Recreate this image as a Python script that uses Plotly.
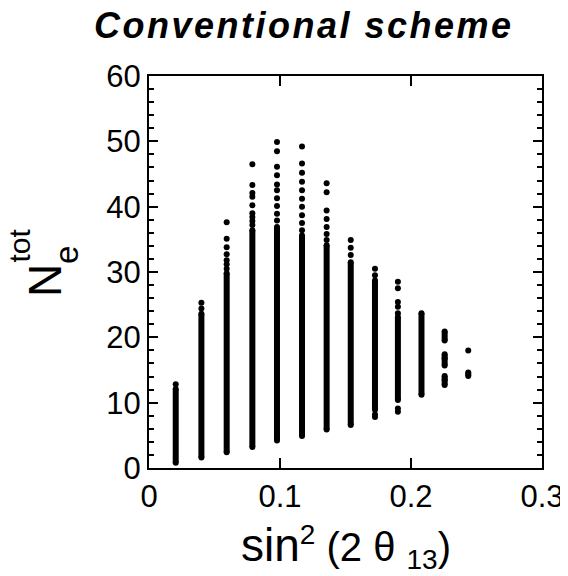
import plotly.graph_objects as go

# Column positions (sin^2(2 theta13))
x_cols = [0.0204, 0.0400, 0.0593, 0.0789, 0.0977, 0.1168, 0.1356, 0.1540, 0.1725, 0.1900, 0.2080, 0.2257, 0.2437]

# Dense (continuous) parts of each column: x, lower and upper N_e^tot
band_x    = [0.0204, 0.0400, 0.0593, 0.0789, 0.0977, 0.1168, 0.1356, 0.1540, 0.1725, 0.1900, 0.2080, 0.2257, 0.2257, 0.2257, 0.2437]
band_low  = [0.8,    1.6,    2.4,    3.2,    4.2,    4.9,    5.9,    6.6,    8.9,    10.4,   11.2,   12.7,   15.7,   19.5,   14.1]
band_high = [12.1,   23.6,   29.8,   36.4,   36.9,   35.6,   34.1,   31.5,   28.7,   23.1,   23.7,   14.1,   17.4,   20.9,   14.6]

# Isolated points above / below the dense parts
dot_x = [0.0204,
         0.0400, 0.0400,
         0.0593, 0.0593, 0.0593, 0.0593, 0.0593, 0.0593, 0.0593,
         0.0789, 0.0789, 0.0789, 0.0789, 0.0789, 0.0789, 0.0789, 0.0789, 0.0789,
         0.0977, 0.0977, 0.0977, 0.0977, 0.0977, 0.0977, 0.0977, 0.0977, 0.0977, 0.0977,
         0.1168, 0.1168, 0.1168, 0.1168, 0.1168, 0.1168, 0.1168, 0.1168, 0.1168, 0.1168,
         0.1356, 0.1356, 0.1356, 0.1356, 0.1356, 0.1356, 0.1356,
         0.1540, 0.1540, 0.1540,
         0.1725, 0.1725, 0.1725, 0.1725,
         0.1900, 0.1900, 0.1900, 0.1900, 0.1900, 0.1900, 0.1900,
         0.2257, 0.2257,
         0.2437]
dot_y = [12.8,
         24.4, 25.3,
         30.5, 31.2, 31.8, 32.7, 33.8, 35.1, 37.6,
         37.2, 37.8, 38.4, 39.0, 40.2, 41.5, 42.1, 43.3, 46.5,
         37.9, 38.9, 40.1, 41.3, 42.5, 43.4, 44.8, 46.1, 48.5, 49.9,
         36.4, 37.5, 38.7, 40.0, 41.2, 42.5, 43.8, 45.2, 46.6, 49.2,
         34.9, 35.8, 36.9, 38.1, 39.4, 42.2, 43.6,
         32.6, 33.7, 34.9,
         29.5, 30.5, 8.2, 7.8,
         23.7, 24.7, 25.4, 27.5, 28.5, 9.1, 8.6,
         16.8, 13.5,
         18.0]

x_ticks = [0, 0.1, 0.2, 0.3]
x_tick_text = ["0", "0.1", "0.2", "0.3"]
y_ticks = [0, 10, 20, 30, 40, 50, 60]
y_tick_text = ["0", "10", "20", "30", "40", "50", "60"]

FONT = "Liberation Sans, Arial, Helvetica, sans-serif"

bx, by = [], []
for x, lo, hi in zip(band_x, band_low, band_high):
    bx += [x, x, None]
    by += [lo, hi, None]

fig = go.Figure()
fig.add_trace(go.Scatter(x=bx, y=by, mode="lines+markers",
                         line=dict(color="black", width=6),
                         marker=dict(color="black", size=6),
                         hoverinfo="skip", showlegend=False))
fig.add_trace(go.Scatter(x=dot_x, y=dot_y, mode="markers",
                         marker=dict(color="black", size=6),
                         showlegend=False))

axis_common = dict(showgrid=False, zeroline=False, showline=True, linecolor="black",
                   linewidth=2, mirror="allticks", ticks="inside", tickcolor="black",
                   tickwidth=1.5, automargin=False,
                   tickfont=dict(family=FONT, size=31, color="black"))

fig.update_xaxes(range=[0, 0.3], tickvals=x_ticks, ticktext=x_tick_text, ticklen=10,
                 **axis_common)
fig.update_yaxes(range=[0, 60], tickvals=y_ticks, ticktext=y_tick_text, ticklen=9,
                 minor=dict(dtick=2, ticks="inside", ticklen=5, tickcolor="black", tickwidth=1.5),
                 **axis_common)

# The page body adds an 8 px offset, so the figure is 560x568 placed at (8, 8).
fig.update_layout(
    width=560, height=568,
    margin=dict(l=141, r=26, t=68, b=108, pad=0, autoexpand=False),
    plot_bgcolor="white", paper_bgcolor="white",
    font=dict(family=FONT, color="black"),
    annotations=[
        dict(text="<span style='letter-spacing:2.5px'><b><i>Conventional scheme</i></b></span>",
             xref="paper", yref="paper",
             x=(304 - 149) / 393, y=1.128, xanchor="center", yanchor="middle", showarrow=False,
             font=dict(size=36, family=FONT, color="black")),
        dict(text="<span style='font-size:46px'>sin</span><sup>2</sup> (2 θ <sub>13</sub>)",
             xref="paper", yref="paper", x=0.5, y=-0.202, xanchor="center", yanchor="middle",
             showarrow=False, font=dict(size=40, family=FONT, color="black")),
        dict(text="N", xref="paper", yref="paper", textangle=-90,
             x=(45 - 149) / 393, y=(468 - 281) / 392, xanchor="center", yanchor="middle",
             showarrow=False, font=dict(size=46, family=FONT, color="black")),
        dict(text="e", xref="paper", yref="paper", textangle=-90,
             x=(66.6 - 149) / 393, y=(468 - 255.5) / 392, xanchor="center", yanchor="middle",
             showarrow=False, font=dict(size=33, family=FONT, color="black")),
        dict(text="tot", xref="paper", yref="paper", textangle=-90,
             x=(18.5 - 149) / 393, y=(468 - 246) / 392, xanchor="center", yanchor="middle",
             showarrow=False, font=dict(size=30, family=FONT, color="black")),
    ],
)

fig.write_html("out.html")
